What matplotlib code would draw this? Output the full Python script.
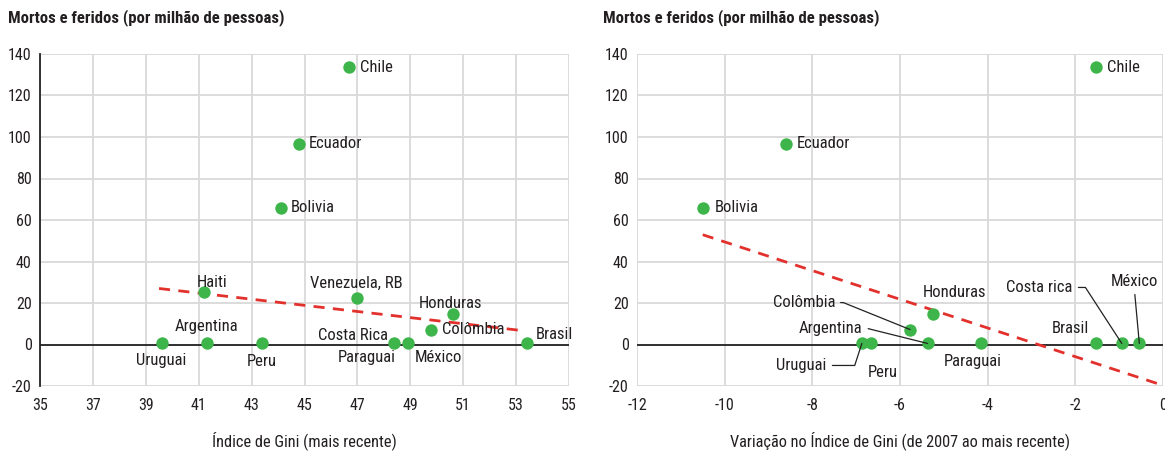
import matplotlib
matplotlib.use("Agg")
import matplotlib.pyplot as plt
from matplotlib import font_manager

# fonte condensada, se houver
nomes = {f.name for f in font_manager.fontManager.ttflist}
familia = 'DejaVu Sans'
for n in ['Roboto Condensed', 'Barlow Semi Condensed', 'Liberation Sans Narrow']:
    if n in nomes:
        familia = n
        break
plt.rcParams['font.family'] = [familia, 'DejaVu Sans']
plt.rcParams['font.stretch'] = 'condensed'
plt.rcParams['axes.unicode_minus'] = False

# ---- dados: painel esquerdo (Gini mais recente) ----
paises_a = ['Uruguai', 'Haiti', 'Argentina', 'Peru', 'Bolivia', 'Ecuador', 'Chile',
            'Venezuela, RB', 'Costa Rica', 'México', 'Colômbia', 'Honduras', 'Brasil']
gini_a = [39.6, 41.2, 41.3, 43.4, 44.1, 44.8, 46.7, 47.0, 48.4, 48.9, 49.8, 50.6, 53.4]
mortos_a = [0.5, 25.2, 0.5, 0.5, 66, 96.7, 133.7, 22.4, 0.5, 0.5, 7.2, 14.6, 0.5]
tend_a_x = [39.5, 53.3]
tend_a_y = [27.0, 6.6]

# ---- dados: painel direito (variação do Gini 2007 -> recente) ----
paises_b = ['Bolivia', 'Ecuador', 'Uruguai', 'Peru', 'Colômbia', 'Argentina', 'Honduras',
            'Paraguai', 'Brasil', 'Chile', 'Costa rica', 'México']
var_b = [-10.5, -8.6, -6.87, -6.66, -5.77, -5.37, -5.25, -4.16, -1.53, -1.53, -0.94, -0.54]
mortos_b = [66, 96.7, 0.5, 0.5, 7.2, 0.5, 14.9, 0.5, 0.5, 133.7, 0.5, 0.5]
tend_b_x = [-10.5, 0.0]
tend_b_y = [52.9, -19.7]

verde = '#3db54a'
vermelho = '#e2312d'
texto = '#231f20'
grade = '#d9d9d9'

fig = plt.figure(figsize=(11.65, 4.54), dpi=100)
W, H = 1165, 454
ax1 = fig.add_axes([40 / W, 1 - 386 / H, 529 / W, 332 / H])
ax2 = fig.add_axes([637 / W, 1 - 386 / H, 526 / W, 332 / H])


def base(ax, xticks):
    ax.set_ylim(-20, 140)
    ax.set_yticks(range(-20, 141, 20))
    ax.set_xlim(xticks[0], xticks[-1])
    ax.set_xticks(xticks)
    ax.grid(True, color=grade, lw=1.3)
    ax.set_axisbelow(True)
    for s in ax.spines.values():
        s.set_visible(False)
    ax.tick_params(length=0, labelsize=11.5, colors=texto)
    ax.tick_params(axis='x', pad=9)
    ax.tick_params(axis='y', pad=6)
    ax.axhline(0, color='#222222', lw=1.3, zorder=2)


base(ax1, list(range(35, 56, 2)))
ax1.spines['left'].set_visible(True)
ax1.spines['left'].set_color('#222222')
ax1.spines['left'].set_linewidth(1.3)
base(ax2, list(range(-12, 1, 2)))

px = 0.72  # pixels -> points

# ---- painel esquerdo ----
ax1.plot(tend_a_x, tend_a_y, ls=(0, (4, 3)), color=vermelho, lw=2, zorder=3)
ax1.scatter(gini_a, mortos_a, s=80, color=verde, zorder=4, linewidths=0)

off_a = {
    'Uruguai': (0, -17, 'center'), 'Haiti': (8, 10, 'center'),
    'Argentina': (0, 17, 'center'), 'Peru': (0, -18, 'center'),
    'Bolivia': (10, 0, 'left'), 'Ecuador': (10, 0, 'left'), 'Chile': (11, 0, 'left'),
    'Venezuela, RB': (-1, 15, 'center'), 'Costa Rica': (-6, 8, 'right'),
    'México': (7, -14, 'left'), 'Colômbia': (11, 0, 'left'),
    'Honduras': (-2, 11, 'center'), 'Brasil': (9, 9, 'left'),
}
for p, x, y in zip(paises_a, gini_a, mortos_a):
    dx, dy, ha = off_a[p]
    ax1.annotate(p, (x, y), xytext=(dx * px, dy * px), textcoords='offset points',
                 ha=ha, va='center', fontsize=12, color=texto, zorder=5)
# Paraguai sobrepõe Costa Rica (mesmo ponto)
ax1.annotate('Paraguai', (gini_a[8], mortos_a[8]), xytext=(1 * px, -14 * px),
             textcoords='offset points', ha='right', va='center', fontsize=12,
             color=texto, zorder=5)

ax1.set_xlabel('Índice de Gini (mais recente)', fontsize=11.8, color=texto, labelpad=13)

# ---- painel direito ----
ax2.plot(tend_b_x, tend_b_y, ls=(0, (4, 3)), color=vermelho, lw=2, zorder=3,
         clip_on=False)
ax2.scatter(var_b, mortos_b, s=80, color=verde, zorder=4, linewidths=0)

linha = dict(arrowstyle='-', color='#222222', lw=0.9, shrinkA=2, shrinkB=0)
off_b = {
    'Bolivia': ((12, 0), 'left', None),
    'Ecuador': ((11, 0), 'left', None),
    'Chile': ((11, 0), 'left', None),
    'Honduras': ((22, 21), 'center', None),
    'Peru': ((12, -29), 'center', None),
    'Paraguai': ((-8, -18), 'center', None),
    'Brasil': ((-26, 15), 'center', None),
    'Colômbia': ((-75, 27), 'right', dict(connectionstyle='angle,angleA=0,angleB=-22,rad=0', relpos=(1, 0.5))),
    'Argentina': ((-65, 15), 'right', dict(connectionstyle='angle,angleA=0,angleB=-14,rad=0', relpos=(1, 0.5))),
    'Uruguai': ((-35, -22), 'right', dict(connectionstyle='angle,angleA=0,angleB=72,rad=0', relpos=(1, 0.5))),
    'Costa rica': ((-49, 56), 'right', dict(connectionstyle='angle,angleA=0,angleB=-57,rad=0', relpos=(1, 0.5))),
    'México': ((-5, 62), 'center', dict(relpos=(0.5, 0))),
}
for p, x, y in zip(paises_b, var_b, mortos_b):
    (dx, dy), ha, arrow = off_b[p]
    kw = {}
    if arrow is not None:
        ap = dict(linha)
        ap.update(arrow)
        kw['arrowprops'] = ap
    ax2.annotate(p, (x, y), xytext=(dx * px, dy * px), textcoords='offset points',
                 ha=ha, va='center', fontsize=12, color=texto, zorder=5, **kw)

ax2.set_xlabel('Variação no Índice de Gini (de 2007 ao mais recente)', fontsize=11.8,
               color=texto, labelpad=13)

# ---- títulos ----
for xt in (8, 603):
    fig.text(xt / W, 1 - 18 / H, 'Mortos e feridos (por milhão de pessoas)',
             fontsize=12, fontweight='bold', color=texto, ha='left', va='center')

fig.savefig('out.png', dpi=100)
